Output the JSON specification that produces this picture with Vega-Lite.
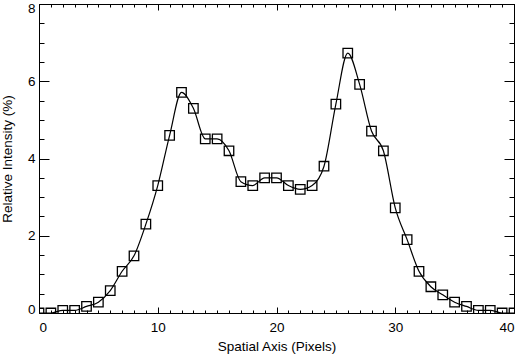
{
  "$schema": "https://vega.github.io/schema/vega-lite/v6.json",
  "width": 475,
  "height": 309,
  "autosize": {"type": "none"},
  "padding": {"left": 39, "top": 4, "right": 9, "bottom": 42},
  "background": "white",
  "config": {
    "view": {"stroke": "black", "strokeWidth": 1},
    "font": "Liberation Sans",
    "axis": {
      "grid": false,
      "domain": false,
      "tickColor": "black",
      "tickWidth": 1,
      "labelColor": "black",
      "titleColor": "black",
      "labelFont": "Liberation Sans",
      "titleFont": "Liberation Sans",
      "labelFontSize": 13.5,
      "titleFontSize": 13.5,
      "titleFontWeight": "normal"
    }
  },
  "data": {
    "values": [
      {"x": 0, "y": 0.0}, {"x": 1, "y": 0.0}, {"x": 2, "y": 0.07}, {"x": 3, "y": 0.07},
      {"x": 4, "y": 0.17}, {"x": 5, "y": 0.28}, {"x": 6, "y": 0.58}, {"x": 7, "y": 1.08},
      {"x": 8, "y": 1.48}, {"x": 9, "y": 2.3}, {"x": 10, "y": 3.3}, {"x": 11, "y": 4.6},
      {"x": 12, "y": 5.71}, {"x": 13, "y": 5.3}, {"x": 14, "y": 4.51}, {"x": 15, "y": 4.51},
      {"x": 16, "y": 4.2}, {"x": 17, "y": 3.4}, {"x": 18, "y": 3.3}, {"x": 19, "y": 3.5},
      {"x": 20, "y": 3.5}, {"x": 21, "y": 3.3}, {"x": 22, "y": 3.2}, {"x": 23, "y": 3.3},
      {"x": 24, "y": 3.8}, {"x": 25, "y": 5.41}, {"x": 26, "y": 6.73}, {"x": 27, "y": 5.92},
      {"x": 28, "y": 4.71}, {"x": 29, "y": 4.2}, {"x": 30, "y": 2.72}, {"x": 31, "y": 1.9},
      {"x": 32, "y": 1.08}, {"x": 33, "y": 0.68}, {"x": 34, "y": 0.47}, {"x": 35, "y": 0.28},
      {"x": 36, "y": 0.17}, {"x": 37, "y": 0.07}, {"x": 38, "y": 0.07}, {"x": 39, "y": 0.0},
      {"x": 40, "y": 0.0}
    ]
  },
  "resolve": {"axis": {"x": "independent", "y": "independent"}},
  "layer": [
    {
      "mark": {"type": "line", "color": "black", "strokeWidth": 1.2, "interpolate": "monotone", "clip": true},
      "encoding": {
        "x": {"field": "x", "type": "quantitative", "scale": {"domain": [0, 40], "nice": false},
          "axis": {"orient": "bottom", "values": [0, 10, 20, 30, 40], "tickSize": -6, "labelPadding": 13, "title": "Spatial Axis (Pixels)", "titlePadding": 6}},
        "y": {"field": "y", "type": "quantitative", "scale": {"domain": [0, 8], "nice": false},
          "axis": {"orient": "left", "values": [0, 2, 4, 6, 8], "tickSize": -10, "labelPadding": 14, "labelFlush": true, "labelFlushOffset": 3, "title": "Relative Intensity (%)", "titlePadding": 13}}
      }
    },
    {
      "mark": {"type": "point", "shape": "square", "size": 90, "filled": false, "color": "black", "strokeWidth": 1.3, "opacity": 1, "clip": true},
      "encoding": {
        "x": {"field": "x", "type": "quantitative", "scale": {"domain": [0, 40], "nice": false},
          "axis": {"orient": "bottom", "values": [0,1,2,3,4,5,6,7,8,9,10,11,12,13,14,15,16,17,18,19,20,21,22,23,24,25,26,27,28,29,30,31,32,33,34,35,36,37,38,39,40], "tickSize": -3, "labels": false, "title": null}},
        "y": {"field": "y", "type": "quantitative", "scale": {"domain": [0, 8], "nice": false},
          "axis": {"orient": "left", "values": [0,0.5,1,1.5,2,2.5,3,3.5,4,4.5,5,5.5,6,6.5,7,7.5,8], "tickSize": -5, "labels": false, "title": null}}
      }
    },
    {
      "mark": {"type": "point", "opacity": 0},
      "encoding": {
        "x": {"field": "x", "type": "quantitative", "scale": {"domain": [0, 40], "nice": false},
          "axis": {"orient": "top", "values": [0, 10, 20, 30, 40], "tickSize": -6, "labels": false, "title": null}},
        "y": {"field": "y", "type": "quantitative", "scale": {"domain": [0, 8], "nice": false},
          "axis": {"orient": "right", "values": [0, 2, 4, 6, 8], "tickSize": -10, "labels": false, "title": null}}
      }
    },
    {
      "mark": {"type": "point", "opacity": 0},
      "encoding": {
        "x": {"field": "x", "type": "quantitative", "scale": {"domain": [0, 40], "nice": false},
          "axis": {"orient": "top", "values": [0,1,2,3,4,5,6,7,8,9,10,11,12,13,14,15,16,17,18,19,20,21,22,23,24,25,26,27,28,29,30,31,32,33,34,35,36,37,38,39,40], "tickSize": -3, "labels": false, "title": null}},
        "y": {"field": "y", "type": "quantitative", "scale": {"domain": [0, 8], "nice": false},
          "axis": {"orient": "right", "values": [0,0.5,1,1.5,2,2.5,3,3.5,4,4.5,5,5.5,6,6.5,7,7.5,8], "tickSize": -5, "labels": false, "title": null}}
      }
    }
  ]
}
